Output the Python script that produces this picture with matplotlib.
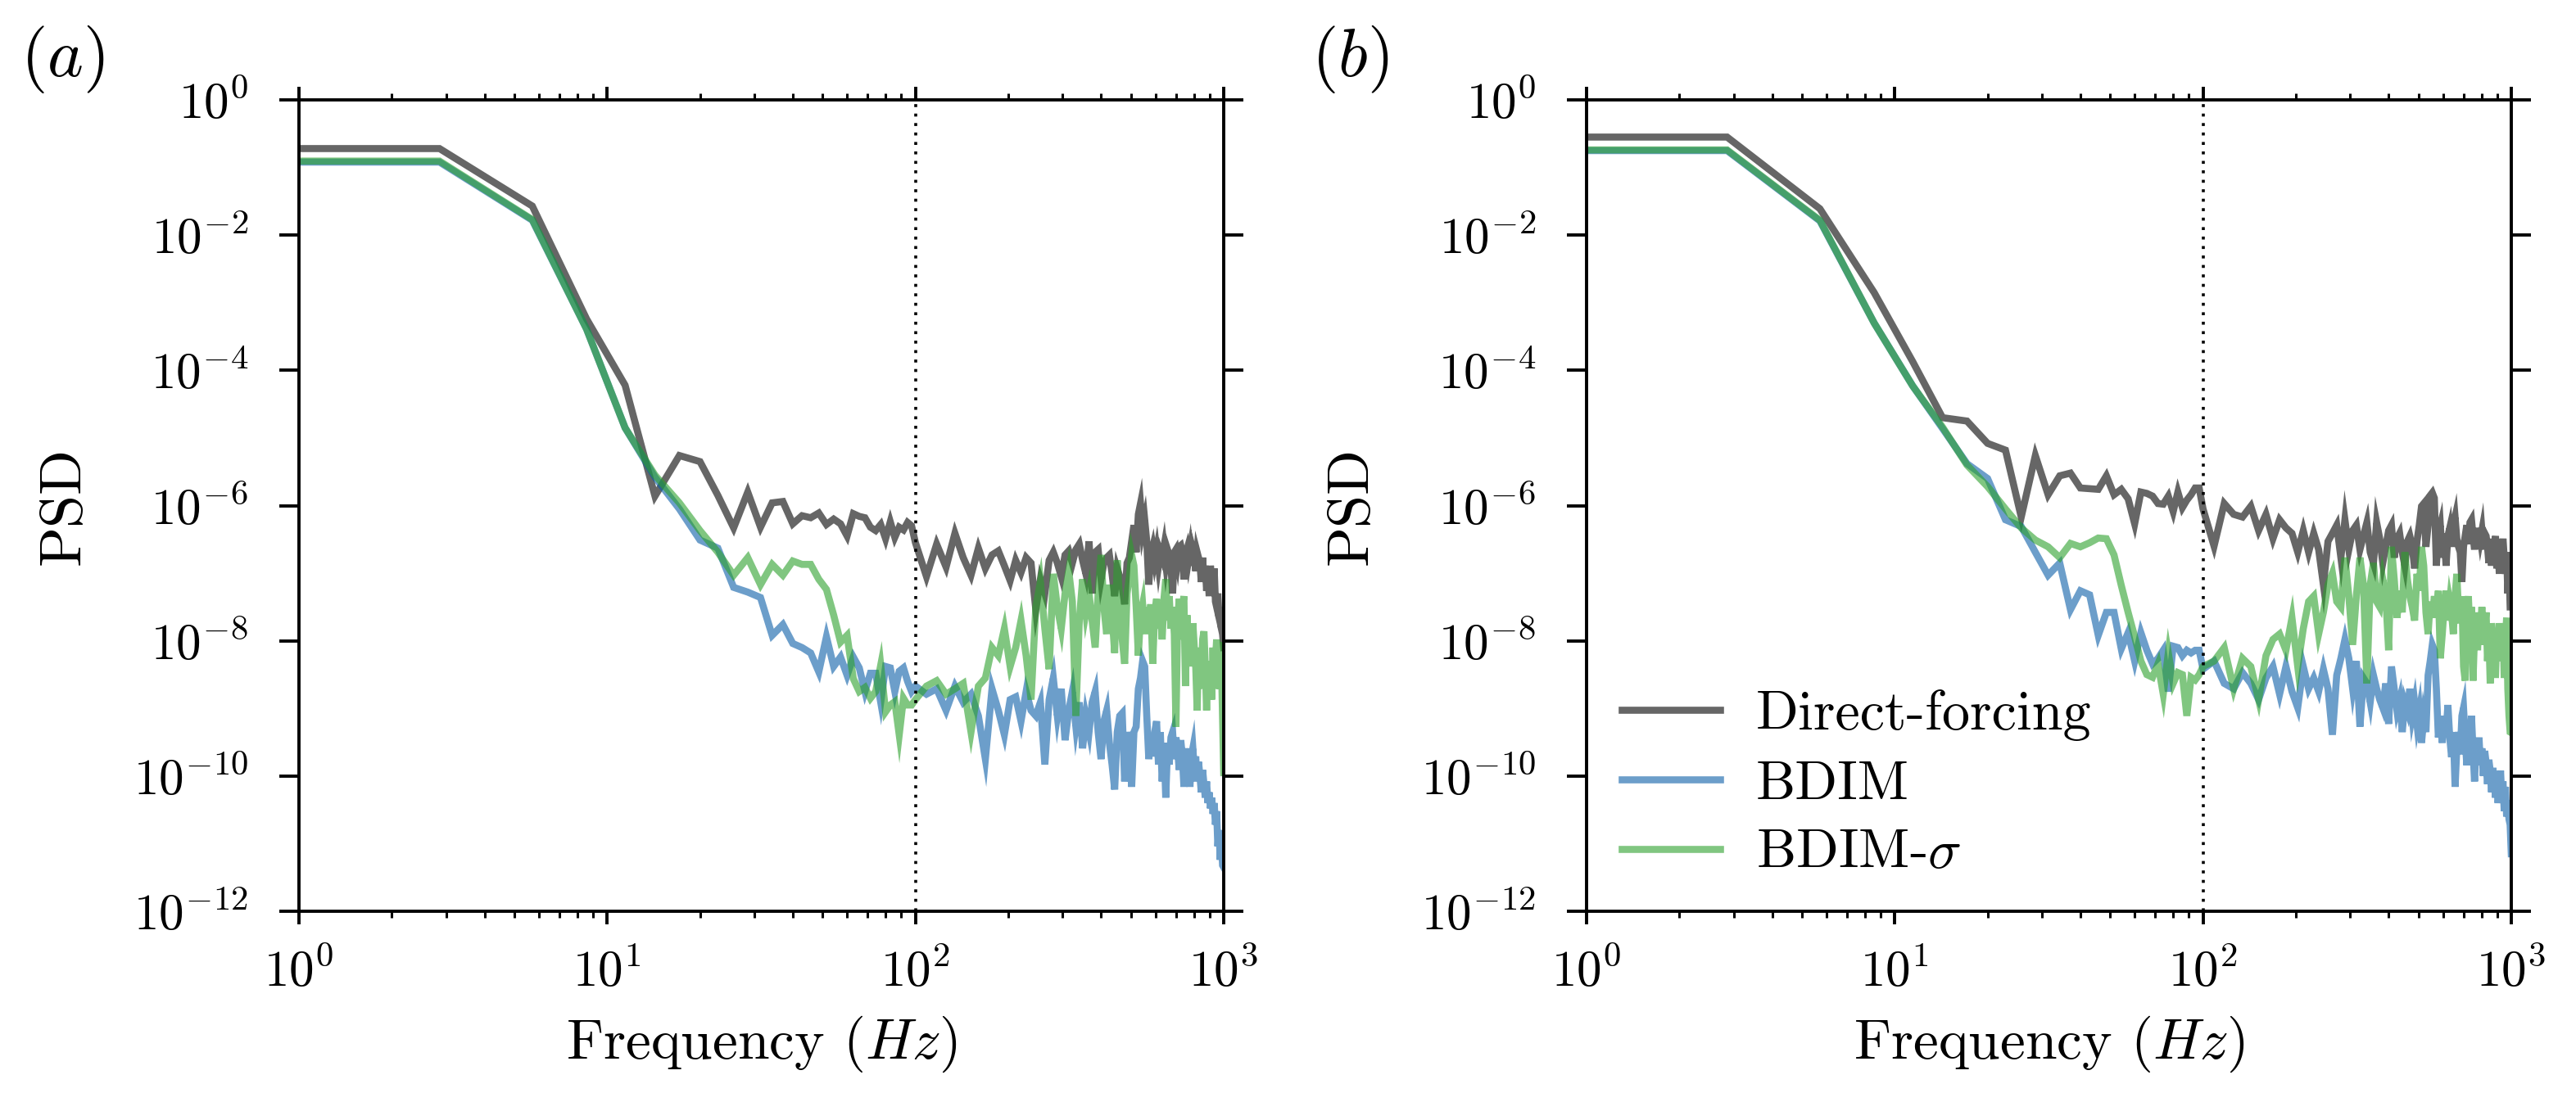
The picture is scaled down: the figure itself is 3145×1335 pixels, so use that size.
import numpy as np
import matplotlib
matplotlib.use('Agg')
import matplotlib.pyplot as plt
from matplotlib.ticker import NullLocator

plt.rcParams['font.family'] = 'serif'
plt.rcParams['font.serif'] = ['cmr10']
plt.rcParams['mathtext.fontset'] = 'cm'
plt.rcParams['axes.formatter.use_mathtext'] = True

# frequency bins of the spectrum (Hz), low part every bin, high part every 3rd bin
df = 1000 / 350
freq_low = df * np.arange(1, 35)
freq_high = df * np.arange(35, 351, 3)
freq = np.concatenate([freq_low, freq_high])

labels = ['Direct-forcing', 'BDIM', r'BDIM-$\sigma$']

# log10(PSD)
a_direct_low = [-0.72, -1.57, -3.24, -4.22, -5.86, -5.26, -5.35, -5.85, -6.33, -5.80,
                -6.32, -5.96, -5.94, -6.27, -6.15, -6.18, -6.11, -6.28, -6.20, -6.27,
                -6.45, -6.12, -6.16, -6.18, -6.32, -6.37, -6.28, -6.49, -6.24, -6.47,
                -6.32, -6.36, -6.25, -6.30]
a_direct_high = [-6.55, -7.05, -6.57, -6.91, -6.41, -6.77, -7.03, -6.63, -6.93, -6.73,
                 -6.67, -6.89, -7.11, -6.81, -6.99, -6.77, -6.85, -7.54, -7.09, -7.30,
                 -6.81, -6.69, -6.85, -7.05, -6.73, -6.67, -6.85, -6.65, -6.57, -6.81,
                 -7.01, -6.53, -7.30, -6.69, -6.65, -7.09, -6.85, -6.77, -6.73, -7.01,
                 -7.34, -6.93, -7.05, -7.21, -7.46, -6.85, -6.77, -6.53, -6.29, -6.69,
                 -6.13, -5.97, -6.37, -6.21, -6.53, -7.17, -6.73, -6.61, -6.81, -6.65,
                 -6.89, -6.69, -6.77, -6.61, -6.85, -6.65, -6.73, -6.89, -7.30, -6.69,
                 -6.65, -6.81, -6.61, -6.59, -6.69, -7.09, -6.73, -6.65, -6.81, -6.67,
                 -6.89, -6.65, -6.73, -6.97, -6.69, -6.77, -6.85, -7.13, -6.77, -7.09,
                 -6.89, -7.26, -7.01, -7.34, -6.89, -7.09, -7.17, -6.93, -7.42, -7.50,
                 -7.30, -7.66, -7.50, -7.82, -7.90, -8.10]
a_bdim_low = [-0.92, -1.78, -3.39, -4.85, -5.58, -6.05, -6.51, -6.63, -7.21, -7.28,
              -7.36, -7.92, -7.76, -8.04, -8.10, -8.18, -8.46, -7.94, -8.38, -8.24,
              -8.51, -8.24, -8.40, -8.75, -8.48, -8.48, -8.91, -8.38, -8.40, -8.75,
              -8.45, -8.40, -8.60, -8.75]
a_bdim_high = [-8.67, -8.79, -8.71, -9.03, -8.67, -8.91, -8.79, -9.11, -9.75, -8.71,
               -9.03, -9.39, -8.87, -8.83, -9.19, -8.75, -9.03, -9.11, -8.91, -9.83,
               -8.87, -8.55, -9.11, -8.71, -9.47, -9.03, -8.75, -9.27, -8.91, -9.59,
               -9.11, -9.35, -8.91, -8.75, -9.35, -9.75, -9.19, -9.03, -9.51, -9.83,
               -10.20, -9.35, -9.11, -9.07, -10.08, -9.35, -9.59, -10.16, -9.35, -9.27,
               -8.71, -8.55, -8.30, -8.38, -9.11, -9.75, -9.43, -9.71, -9.35, -9.19,
               -9.83, -9.35, -10.08, -9.51, -10.32, -9.59, -9.83, -9.43, -9.35, -9.75,
               -9.43, -9.59, -9.91, -9.47, -9.71, -10.16, -9.59, -9.91, -9.63, -10.16,
               -9.71, -9.59, -9.91, -9.71, -10.08, -9.79, -9.99, -10.24, -9.91, -10.12,
               -10.32, -10.08, -10.40, -10.24, -10.48, -10.32, -10.56, -10.40, -10.72, -10.52,
               -11.04, -10.80, -11.24, -10.92, -11.32, -11.35]
a_sigma_low = [-0.905, -1.77, -3.39, -4.85, -5.55, -5.96, -6.37, -6.69, -7.03, -6.77,
               -7.17, -6.87, -7.03, -6.82, -6.87, -6.87, -7.09, -7.24, -7.62, -8.02,
               -7.92, -8.56, -8.75, -8.69, -8.85, -8.75, -8.36, -9.05, -8.95, -8.90,
               -9.39, -8.85, -8.95, -8.95]
a_sigma_high = [-8.87, -8.67, -8.59, -8.79, -8.71, -8.63, -9.35, -8.67, -8.55, -8.10,
                -8.22, -7.82, -8.38, -8.10, -7.70, -8.22, -8.87, -7.50, -7.13, -7.82,
                -8.42, -7.01, -7.50, -7.82, -7.30, -6.97, -7.42, -9.11, -7.70, -7.09,
                -7.58, -7.30, -7.70, -8.10, -7.30, -6.73, -7.50, -7.90, -7.17, -7.62,
                -8.18, -6.81, -7.42, -7.98, -8.34, -7.30, -7.05, -6.73, -6.89, -7.50,
                -8.22, -7.62, -7.46, -7.90, -7.50, -7.78, -7.46, -8.34, -7.58, -7.38,
                -7.82, -7.50, -7.98, -7.38, -7.09, -7.70, -7.34, -7.82, -7.50, -7.90,
                -9.27, -7.70, -7.38, -7.98, -7.50, -7.34, -8.67, -7.62, -8.02, -7.82,
                -8.38, -7.74, -8.10, -8.38, -9.03, -8.10, -8.55, -8.71, -7.98, -7.86,
                -8.38, -9.03, -8.30, -8.79, -8.55, -8.87, -8.10, -8.71, -8.30, -7.98,
                -8.55, -8.02, -8.71, -8.30, -9.11, -9.95]

# log10(PSD)
b_direct_low = [-0.55, -1.61, -2.85, -3.87, -4.70, -4.75, -5.08, -5.18, -6.17, -5.26,
                -5.84, -5.56, -5.52, -5.74, -5.75, -5.76, -5.56, -5.84, -5.76, -5.90,
                -6.27, -5.80, -5.82, -5.86, -5.97, -5.98, -5.86, -6.09, -5.80, -6.03,
                -5.92, -5.84, -5.74, -5.74]
b_direct_high = [-6.05, -6.60, -5.97, -6.13, -6.17, -6.01, -6.37, -6.13, -6.49, -6.21,
                 -6.33, -6.41, -6.69, -6.37, -6.69, -6.41, -6.65, -7.17, -6.53, -6.41,
                 -6.29, -6.77, -6.21, -6.65, -6.37, -6.29, -6.65, -6.45, -6.25, -6.69,
                 -6.85, -6.25, -6.49, -6.85, -6.61, -6.37, -6.29, -6.77, -6.49, -6.41,
                 -6.69, -6.89, -6.53, -6.45, -6.61, -6.93, -6.53, -6.29, -6.01, -5.97,
                 -6.61, -6.29, -5.85, -5.81, -5.89, -6.89, -6.41, -6.29, -6.77, -6.41,
                 -6.89, -6.45, -6.33, -6.61, -6.29, -6.17, -6.49, -6.61, -6.69, -7.13,
                 -6.61, -6.45, -6.29, -6.57, -6.25, -6.21, -6.45, -6.65, -6.41, -6.57,
                 -6.33, -6.49, -6.37, -6.65, -6.41, -6.45, -6.61, -6.85, -6.53, -6.89,
                 -6.49, -6.65, -6.45, -6.93, -6.61, -7.01, -6.53, -6.69, -6.49, -6.77,
                 -7.01, -6.69, -7.30, -6.89, -7.50, -7.50]
b_bdim_low = [-0.75, -1.79, -3.30, -4.23, -4.86, -5.38, -5.60, -6.21, -6.31, -6.69,
              -7.03, -6.85, -7.54, -7.26, -7.32, -7.92, -7.58, -7.58, -8.12, -7.88,
              -8.30, -7.88, -8.14, -8.34, -8.26, -8.14, -8.75, -8.08, -8.10, -8.22,
              -8.14, -8.18, -8.14, -8.14]
b_bdim_high = [-8.42, -8.30, -8.63, -8.71, -8.47, -8.63, -8.87, -8.55, -8.38, -8.79,
               -8.38, -8.75, -8.99, -8.38, -8.71, -8.55, -8.75, -8.42, -8.71, -9.39,
               -8.51, -8.26, -7.98, -8.26, -8.71, -8.30, -9.27, -8.55, -8.63, -8.91,
               -8.51, -8.71, -8.87, -8.99, -8.63, -9.23, -8.38, -8.71, -9.03, -8.87,
               -9.35, -8.91, -9.03, -8.71, -9.11, -8.91, -9.23, -9.03, -9.51, -9.15,
               -9.35, -8.51, -8.30, -8.06, -8.14, -8.71, -9.43, -9.19, -9.51, -9.11,
               -9.35, -8.95, -9.43, -9.72, -9.35, -10.16, -9.59, -9.35, -9.68, -9.11,
               -8.99, -9.43, -9.84, -9.19, -9.51, -9.11, -9.63, -10.08, -9.51, -9.72,
               -9.43, -9.84, -9.59, -10.00, -9.63, -9.80, -10.12, -9.76, -9.92, -10.24,
               -9.88, -10.08, -10.32, -10.00, -10.40, -10.16, -9.92, -10.32, -10.08, -10.52,
               -10.16, -10.60, -10.36, -10.64, -10.72, -11.15]
b_sigma_low = [-0.74, -1.78, -3.30, -4.23, -4.84, -5.40, -5.72, -6.05, -6.33, -6.51,
               -6.61, -6.77, -6.56, -6.61, -6.55, -6.48, -6.49, -6.73, -7.18, -7.58,
               -7.94, -8.30, -8.50, -8.54, -8.34, -8.79, -8.18, -8.63, -8.47, -8.50,
               -9.11, -8.54, -8.58, -8.50]
b_sigma_high = [-8.38, -8.30, -8.10, -8.71, -8.26, -8.38, -8.87, -8.22, -7.98, -7.90,
                -8.14, -7.66, -8.38, -7.82, -7.42, -7.34, -7.90, -7.58, -7.17, -7.00,
                -7.42, -7.50, -6.77, -7.34, -8.06, -7.34, -6.77, -7.17, -8.63, -7.17,
                -6.85, -7.42, -7.50, -7.09, -7.34, -8.14, -6.61, -7.09, -7.66, -7.26,
                -7.58, -6.69, -7.09, -7.34, -7.50, -7.70, -7.01, -7.26, -6.61, -6.89,
                -7.58, -7.90, -7.42, -7.66, -7.34, -7.58, -7.26, -8.26, -7.90, -7.50,
                -7.26, -7.70, -7.42, -7.58, -7.90, -7.34, -7.01, -7.58, -7.74, -7.34,
                -8.38, -8.59, -7.58, -7.34, -7.90, -7.50, -8.59, -7.90, -7.58, -8.14,
                -7.70, -7.90, -7.50, -8.06, -7.82, -7.58, -8.30, -7.90, -8.63, -7.74,
                -7.98, -7.82, -8.55, -7.90, -8.14, -7.74, -7.98, -8.30, -7.82, -8.55,
                -7.98, -7.66, -8.71, -9.11, -9.35, -9.36]

colors = ['black', '#0a5da8', '#2ca02c']

W, H = 3145, 1335
fig = plt.figure(figsize=(W / 200, H / 200), dpi=200)
ax_a = fig.add_axes([365 / W, 222 / H, 1129 / W, 991 / H])
ax_b = fig.add_axes([1937 / W, 222 / H, 1129 / W, 991 / H])


def draw(ax, series, tag):
    for (low, high), color, label in zip(series, colors, labels):
        vals = np.concatenate([low, high])
        # spectrum starts flat from the left edge of the axis
        x = np.r_[1.0, freq]
        y = 10.0 ** np.r_[vals[0], vals]
        ax.plot(x, y, color=color, lw=3.1, alpha=0.6, label=label,
                solid_joinstyle='miter')
    ax.axvline(100, color='black', lw=1.3, ls=(0, (1, 2.2)))

    ax.set_xscale('log')
    ax.set_yscale('log')
    ax.set_xlim(1, 1000)
    ax.set_ylim(1e-12, 1)
    ax.set_yticks([10.0 ** p for p in range(-12, 1, 2)])
    ax.yaxis.set_minor_locator(NullLocator())

    ax.tick_params(which='both', direction='out', top=True, right=True)
    ax.tick_params(axis='x', which='major', length=5.9, width=1.4, pad=10.5, labelsize=22)
    ax.tick_params(axis='x', which='minor', length=2.9, width=1.1)
    ax.tick_params(axis='y', which='major', length=8.8, width=1.4, pad=13.5, labelsize=22)
    for s in ax.spines.values():
        s.set_linewidth(1.4)

    ax.set_xlabel('Frequency ($Hz$)', fontsize=25, labelpad=8)
    ax.set_ylabel('PSD', fontsize=26)
    ax.yaxis.set_label_coords(-0.224, 0.5)
    ax.text(-0.256, 1.05, tag, transform=ax.transAxes, fontsize=30,
            ha='center', va='center')


draw(ax_a, [(a_direct_low, a_direct_high), (a_bdim_low, a_bdim_high),
            (a_sigma_low, a_sigma_high)], '$(a)$')
draw(ax_b, [(b_direct_low, b_direct_high), (b_bdim_low, b_bdim_high),
            (b_sigma_low, b_sigma_high)], '$(b)$')

ax_b.legend(loc='lower left', bbox_to_anchor=(0.038, 0.04), frameon=False,
            fontsize=24.5, handlelength=1.76, handletextpad=0.65, labelspacing=0.34,
            borderpad=0, borderaxespad=0)

fig.savefig('out.png', dpi=200)
